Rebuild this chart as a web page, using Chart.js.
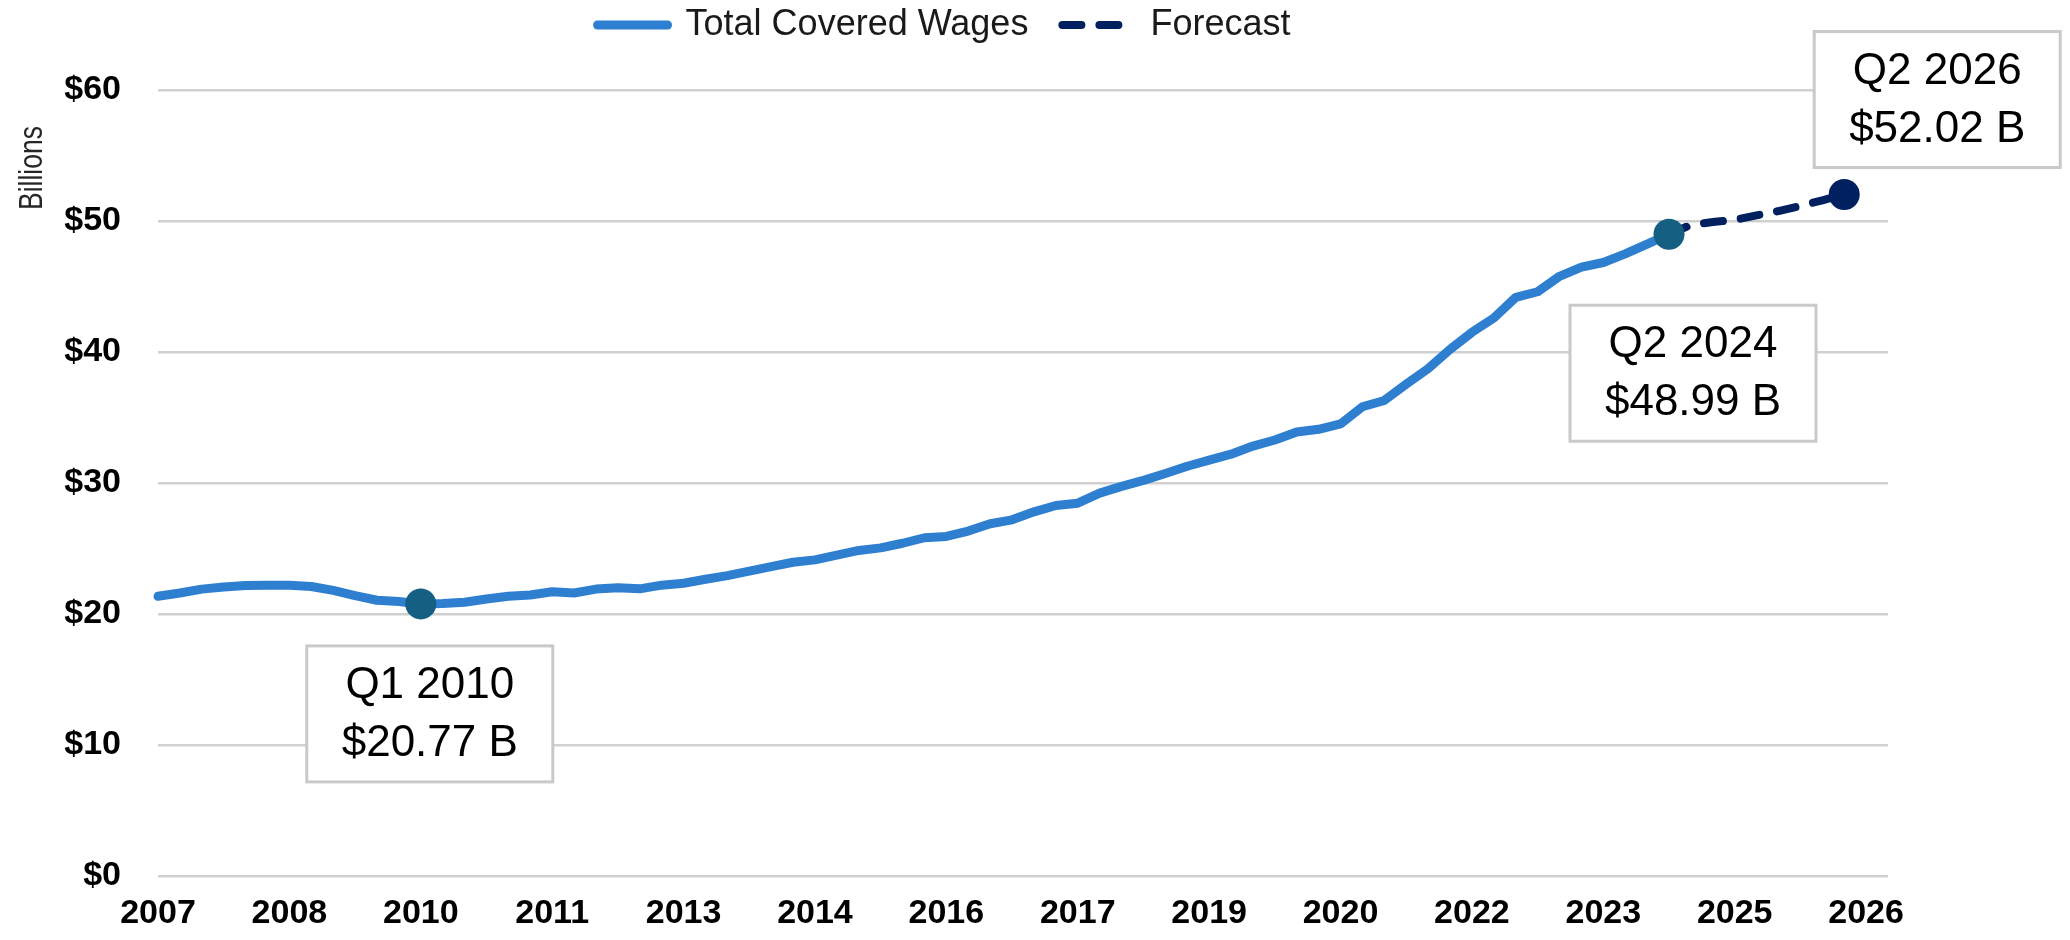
<!DOCTYPE html>
<html>
<head>
<meta charset="utf-8">
<title>Total Covered Wages</title>
<script src="https://cdn.jsdelivr.net/npm/chart.js@4.4.1/dist/chart.umd.min.js"></script>
<style>
  html, body { margin: 0; padding: 0; background: #fff; }
  #wrap { width: 2070px; height: 940px; }
</style>
</head>
<body>
<div id="wrap"><canvas id="wagesChart" width="2070" height="940"></canvas></div>
<script>
// Total covered wages per quarter, in billions of dollars
const firstYear = 2007;
const lastYear = 2026;

// labels under the x axis, one every six quarters
const tickYears = ['2007', '2008', '2010', '2011', '2013', '2014', '2016',
                   '2017', '2019', '2020', '2022', '2023', '2025', '2026'];
const tickEvery = 6;

// Q1 2007 .. Q2 2024
const actualWages = [
  21.35, 21.6, 21.9, 22.06, 22.17, 22.2, 22.2, 22.1, 21.8, 21.4,
  21.05, 20.95, 20.77, 20.8, 20.9, 21.15, 21.35, 21.45, 21.7, 21.6,
  21.9, 22.0, 21.92, 22.2, 22.35, 22.65, 22.93, 23.27, 23.62, 23.95,
  24.13, 24.49, 24.85, 25.05, 25.4, 25.82, 25.92, 26.33, 26.89, 27.19,
  27.8, 28.28, 28.46, 29.23, 29.74, 30.2, 30.72, 31.28, 31.74, 32.2,
  32.82, 33.28, 33.9, 34.1, 34.51, 35.82, 36.3, 37.54, 38.73, 40.2,
  41.5, 42.59, 44.17, 44.6, 45.78, 46.48, 46.83, 47.49, 48.24, 48.99
];

// Q2 2024 .. Q2 2026
const forecastWages = [48.99, 49.7, 49.92, 50.08, 50.43, 50.76, 51.15, 51.58, 52.02];

const yMax = 60;
const yStep = 10;

// quarter labels for the category axis
const quarters = [];
for (let y = firstYear; y <= lastYear; y++) {
  for (let q = 1; q <= 4; q++) quarters.push('Q' + q + ' ' + y);
}

const forecastStart = actualWages.length - 1;
const forecastData = quarters.map((q, i) => {
  const k = i - forecastStart;
  return k >= 0 && k < forecastWages.length ? forecastWages[k] : null;
});

// highlighted points with a label box (offsets are in pixels from the point)
const callouts = [
  { quarter: 'Q1 2010', series: 0, dx: 9, dy: 42 },
  { quarter: 'Q2 2024', series: 0, dx: 24, dy: 71 },
  { quarter: 'Q2 2026', series: 1, dx: 93, dy: -163 }
];
callouts.forEach(c => { c.index = quarters.indexOf(c.quarter); });

function markerRadius(series) {
  return ctx => callouts.some(c => c.series === series && c.index === ctx.dataIndex) ? 15.5 : 0;
}

const legendShift = 27;

const calloutPlugin = {
  id: 'callouts',
  beforeLayout(chart) {
    // fixed legend band above the plot
    if (chart.legend && !chart.legend._fixed) {
      const fit = chart.legend.fit;
      chart.legend.fit = function () {
        fit.call(this);
        this.height = 90;
      };
      chart.legend._fixed = true;
    }
  },
  afterLayout(chart) {
    // wide gap between legend items, but keep the row near the top
    chart.legend.top -= legendShift;
    chart.legend.bottom -= legendShift;
  },
  afterDraw(chart) {
    const ctx = chart.ctx;
    ctx.save();
    callouts.forEach(c => {
      const pt = chart.getDatasetMeta(c.series).data[c.index];
      const value = chart.data.datasets[c.series].data[c.index];
      const w = 246, h = 136;
      const left = pt.x + c.dx - w / 2;
      const top = pt.y + c.dy;
      ctx.fillStyle = '#ffffff';
      ctx.fillRect(left, top, w, h);
      ctx.strokeStyle = '#c9c9c9';
      ctx.lineWidth = 3;
      ctx.strokeRect(left, top, w, h);
      ctx.fillStyle = '#000000';
      ctx.font = '44px "Liberation Sans", Arial, sans-serif';
      ctx.textAlign = 'center';
      ctx.textBaseline = 'middle';
      ctx.fillText(c.quarter, left + w / 2, top + 40);
      ctx.fillText('$' + value.toFixed(2) + ' B', left + w / 2, top + 98);
    });

    // axis title, sits at the top of the value axis (condensed look)
    ctx.translate(33, 168);
    ctx.rotate(-Math.PI / 2);
    ctx.scale(0.78, 1);
    ctx.fillStyle = '#262626';
    ctx.font = '34px "Liberation Sans", sans-serif';
    ctx.textAlign = 'center';
    ctx.textBaseline = 'middle';
    ctx.fillText('Billions', 0, 0);
    ctx.restore();
  }
};

const ctx = document.getElementById('wagesChart').getContext('2d');
const wagesChart = new Chart(ctx, {
  type: 'line',
  data: {
    labels: quarters,
    datasets: [{
      label: 'Total Covered Wages',
      data: actualWages,
      borderColor: '#2f7fd1',
      backgroundColor: '#2f7fd1',
      borderWidth: 9,
      borderCapStyle: 'round',
      borderJoinStyle: 'round',
      tension: 0,
      pointRadius: markerRadius(0),
      pointHoverRadius: markerRadius(0),
      pointBackgroundColor: '#156082',
      pointBorderWidth: 0
    }, {
      label: 'Forecast',
      data: forecastData,
      borderColor: '#002060',
      backgroundColor: '#002060',
      borderWidth: 8,
      borderDash: [19, 18],
      borderCapStyle: 'round',
      tension: 0,
      pointRadius: markerRadius(1),
      pointHoverRadius: markerRadius(1),
      pointBackgroundColor: '#002060',
      pointBorderWidth: 0
    }]
  },
  options: {
    responsive: false,
    animation: false,
    layout: { padding: { left: 0, right: 182, top: 0, bottom: 0 } },
    plugins: {
      tooltip: { enabled: false },
      legend: {
        position: 'top',
        align: 'center',
        labels: {
          usePointStyle: true,
          pointStyleWidth: 70,
          padding: 34,
          color: '#1a1a1a',
          font: { family: '"Liberation Sans Narrow", "Liberation Sans", sans-serif', size: 36 },
          generateLabels: chart => chart.data.datasets.map((ds, i) => ({
            text: ds.label,
            datasetIndex: i,
            hidden: false,
            pointStyle: 'line',
            strokeStyle: ds.borderColor,
            fillStyle: ds.borderColor,
            lineWidth: ds.borderWidth,
            lineDash: ds.borderDash || [],
            lineCap: 'round',
            fontColor: '#1a1a1a'
          }))
        }
      }
    },
    scales: {
      x: {
        type: 'category',
        offset: false,
        grid: { display: false, drawTicks: false },
        border: { display: false },
        afterFit: scale => { scale.height = 64; },
        ticks: {
          autoSkip: false,
          maxRotation: 0,
          minRotation: 0,
          padding: 17,
          color: '#000000',
          font: { family: '"Liberation Sans", Arial, sans-serif', size: 34, weight: 'bold' },
          callback: (val, i) => i % tickEvery === 0 ? tickYears[i / tickEvery] : null
        }
      },
      y: {
        min: 0,
        max: yMax,
        grid: { color: '#d0d0d0', lineWidth: 2.5, drawTicks: false },
        border: { display: false },
        afterFit: scale => { scale.width = 158; },
        ticks: {
          stepSize: yStep,
          padding: 37,
          color: '#000000',
          font: { family: '"Liberation Sans", Arial, sans-serif', size: 34, weight: 'bold' },
          callback: v => '$' + v
        }
      }
    }
  },
  plugins: [calloutPlugin]
});
</script>
</body>
</html>
